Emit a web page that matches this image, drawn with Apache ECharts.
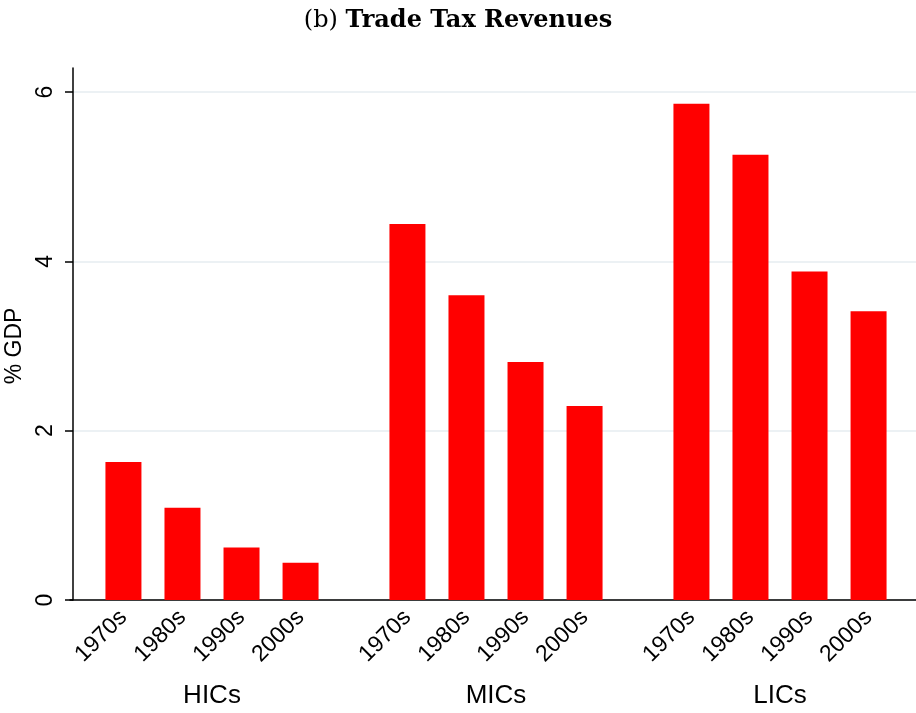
<!DOCTYPE html>
<html>
<head>
<meta charset="utf-8">
<script src="https://cdn.jsdelivr.net/npm/echarts@6/dist/echarts.min.js"></script>
<style>
  html, body { margin: 0; padding: 0; background: #fff; }
  #chart { width: 916px; height: 713px; }
</style>
</head>
<body>
<div id="chart"></div>
<script>
// country groups on the x axis
var groups = ['HICs', 'MICs', 'LICs'];
// one series per decade
var decades = ['1970s', '1980s', '1990s', '2000s'];
// trade tax revenue, % of GDP, order: HICs, MICs, LICs
var v1970s = [1.63, 4.44, 5.86];
var v1980s = [1.09, 3.60, 5.26];
var v1990s = [0.62, 2.81, 3.88];
var v2000s = [0.44, 2.29, 3.41];
var yTicks = [0, 2, 4, 6];

var values = [v1970s, v1980s, v1990s, v2000s];
var font = 'Liberation Sans, Arial, sans-serif';

var chart = echarts.init(document.getElementById('chart'));

var series = decades.map(function (d, i) {
  return {
    name: d,
    type: 'bar',
    xAxisIndex: 0,
    yAxisIndex: 0,
    barWidth: 36,
    barGap: '64%',
    data: values[i],
    itemStyle: { color: '#ff0000' },
    label: {
      show: true,
      position: 'bottom',
      distance: 14,
      rotate: 45,
      align: 'right',
      verticalAlign: 'middle',
      formatter: '{a}',
      color: '#000',
      fontFamily: font,
      fontSize: 23
    },
    silent: true
  };
});

chart.setOption({
  animation: false,
  title: {
    left: 'center',
    top: 4,
    text: '{a|(b) }{b|Trade Tax Revenues}',
    textStyle: {
      rich: {
        a: { fontFamily: 'DejaVu Serif', fontSize: 24, fontWeight: 'normal', color: '#000' },
        b: { fontFamily: 'DejaVu Serif', fontSize: 24, fontWeight: 'bold', color: '#000' }
      }
    }
  },
  grid: [
    { left: 70, right: -6, top: 92, bottom: 113, outerBoundsMode: 'none' },
    { left: 70, right: -6, top: 68, bottom: 113, outerBoundsMode: 'none' }
  ],
  xAxis: [
    {
      type: 'category',
      gridIndex: 0,
      data: groups,
      axisLine: { lineStyle: { color: '#000', width: 1.5 } },
      axisTick: { show: false },
      axisLabel: {
        margin: 83,
        color: '#000',
        fontFamily: font,
        fontSize: 26
      }
    },
    { type: 'category', gridIndex: 1, show: false, data: groups }
  ],
  yAxis: [
    {
      type: 'value',
      gridIndex: 0,
      offset: -3,
      min: 0,
      max: 6,
      interval: 2,
      name: '% GDP',
      nameLocation: 'middle',
      nameGap: 39,
      nameTextStyle: { color: '#000', fontFamily: font, fontSize: 23 },
      axisLine: { show: false },
      axisTick: { show: true, length: 8, lineStyle: { color: '#000', width: 1.5 } },
      axisLabel: {
        rotate: 90,
        margin: 16,
        color: '#000',
        fontFamily: font,
        fontSize: 23,
        formatter: function (v) { return yTicks.indexOf(v) >= 0 ? String(v) : ''; }
      },
      splitLine: { show: true, lineStyle: { color: '#e6edf1', width: 1.5 } }
    },
    {
      type: 'value',
      gridIndex: 1,
      offset: -3,
      min: 0,
      max: 1,
      axisLine: { show: true, lineStyle: { color: '#000', width: 1.5 } },
      axisTick: { show: false },
      axisLabel: { show: false },
      splitLine: { show: false }
    }
  ],
  series: series
});
</script>
</body>
</html>
